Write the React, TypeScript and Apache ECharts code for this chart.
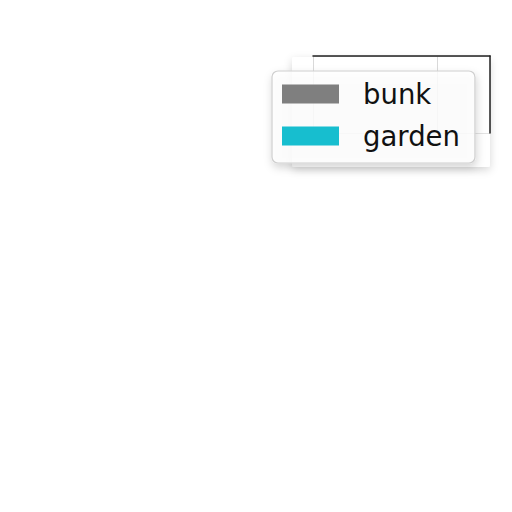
import React, { useEffect, useRef } from "react";
import * as echarts from "echarts";

const seriesNames = ["bunk", "garden"];
const seriesColors = ["#7f7f7f", "#17becf"];
const bunkValues: number[] = [];
const gardenValues: number[] = [];
const xRange = [0, 10];
const xTickStep = 7;
const yRange = [0, 10];
const yTickStep = 10;

export default function App() {
  const ref = useRef<HTMLDivElement>(null);
  useEffect(() => {
    if (!ref.current) return;
    const chart = echarts.init(ref.current, undefined, { renderer: "svg" });
    const font = "DejaVu Sans";
    chart.setOption({
      animation: false,
      backgroundColor: "#ffffff",
      graphic: [
        {
          type: "rect",
          z: 0,
          shape: { x: 292, y: 57, width: 198, height: 110, r: 2 },
          style: {
            fill: "#ffffff",
            shadowBlur: 8,
            shadowColor: "rgba(0,0,0,0.16)",
            shadowOffsetX: 0,
            shadowOffsetY: 3,
          },
          silent: true,
        },
      ],
      grid: {
        left: 313,
        top: 56,
        right: 22,
        bottom: 379,
        containLabel: false,
      },
      xAxis: {
        type: "value",
        position: "top",
        min: xRange[0],
        max: xRange[1],
        interval: xTickStep,
        axisLine: { show: true, onZero: false, lineStyle: { color: "#222", width: 1.5 } },
        axisTick: { show: false },
        axisLabel: { show: false },
        splitLine: { show: true, lineStyle: { color: "#d9d9d9", width: 1 } },
      },
      yAxis: {
        type: "value",
        position: "right",
        min: yRange[0],
        max: yRange[1],
        interval: yTickStep,
        axisLine: { show: true, onZero: false, lineStyle: { color: "#222", width: 1.5 } },
        axisTick: { show: false },
        axisLabel: { show: false },
        splitLine: { show: true, lineStyle: { color: "#e3e3e3", width: 1 } },
      },
      legend: {
        orient: "vertical",
        left: 272,
        top: 71,
        data: seriesNames,
        icon: "rect",
        itemWidth: 57,
        itemHeight: 19,
        itemGap: 14,
        padding: [9, 15, 13, 10],
        backgroundColor: "rgba(255,255,255,0.82)",
        borderColor: "#cfcfcf",
        borderWidth: 1.2,
        borderRadius: 6,
        shadowBlur: 8,
        shadowColor: "rgba(0,0,0,0.2)",
        shadowOffsetX: 1,
        shadowOffsetY: 4,
        selectedMode: false,
        textStyle: {
          fontFamily: font,
          fontSize: 27.5,
          color: "#111",
          lineHeight: 28,
          padding: [0, 0, 0, 19],
        },
      },
      series: [
        {
          name: seriesNames[0],
          type: "bar",
          data: bunkValues,
          itemStyle: { color: seriesColors[0] },
        },
        {
          name: seriesNames[1],
          type: "bar",
          data: gardenValues,
          itemStyle: { color: seriesColors[1] },
        },
      ],
    });
    return () => chart.dispose();
  }, []);
  return <div ref={ref} style={{ width: 512, height: 512, position: "absolute", left: 0, top: 0 }} />;
}
